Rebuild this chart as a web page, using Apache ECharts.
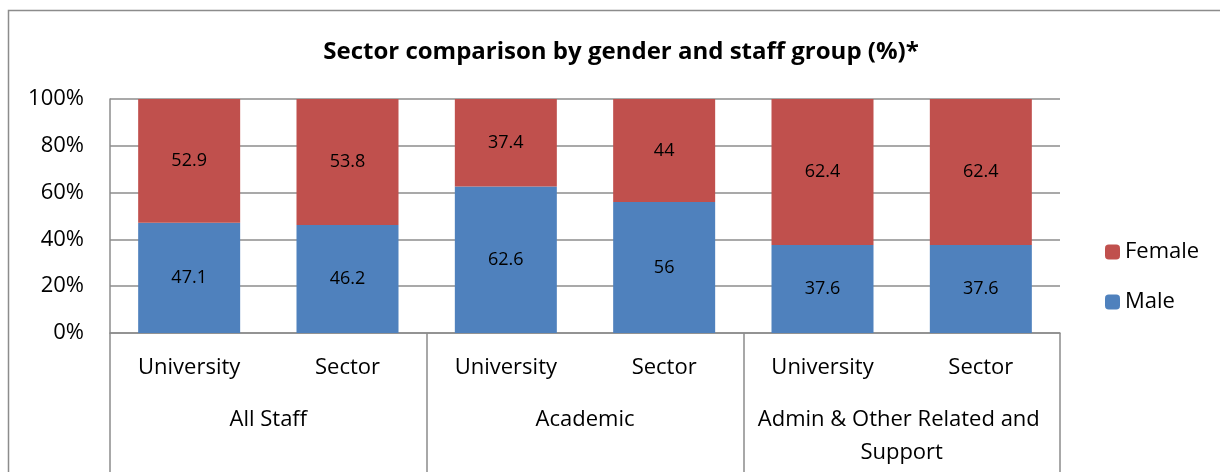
<!DOCTYPE html>
<html>
<head>
<meta charset="utf-8">
<script src="https://cdn.jsdelivr.net/npm/echarts@6/dist/echarts.min.js"></script>
<style>
  html, body { margin: 0; padding: 0; background: #fff; }
  #chart { width: 1220px; height: 472px; }
</style>
</head>
<body>
<div id="chart"></div>
<script>
// data
const subLabels = ['University', 'Sector', 'University', 'Sector', 'University', 'Sector'];
const groupLabels = ['All Staff', 'Academic', 'Admin & Other Related and Support'];
const maleValues = [47.1, 46.2, 62.6, 56, 37.6, 37.6];
const femaleValues = [52.9, 53.8, 37.4, 44, 62.4, 62.4];
const yTicks = [0, 20, 40, 60, 80, 100];

const FONT = 'Open Sans';
const gray = '#8c8c8c';

const chart = echarts.init(document.getElementById('chart'));
chart.setOption({
  animation: false,
  textStyle: { fontFamily: FONT, color: '#000' },
  title: {
    text: 'Sector comparison by gender and staff group (%)*',
    left: 616,
    textAlign: 'center',
    top: 35,
    textStyle: { fontFamily: FONT, fontSize: 24, fontWeight: 'bold', color: '#000' }
  },
  graphic: [{
    type: 'rect',
    shape: { x: 8.5, y: 10.5, width: 1230, height: 480 },
    style: { fill: 'none', stroke: gray, lineWidth: 1.5 },
    silent: true
  }],
  legend: {
    orient: 'vertical',
    left: 1100,
    top: 235,
    itemWidth: 15,
    itemHeight: 15,
    itemGap: 26,
    data: ['Female', 'Male'],
    textStyle: { fontFamily: FONT, fontSize: 22, lineHeight: 24, color: '#000' }
  },
  grid: { left: 110, right: 160, top: 99, bottom: 139, containLabel: false },
  xAxis: [{
    type: 'category',
    data: subLabels,
    axisLine: { show: true, lineStyle: { color: gray, width: 1.5 } },
    axisTick: { show: false },
    axisLabel: { interval: 0, fontSize: 22, color: '#000', margin: 23, lineHeight: 24 }
  }, {
    type: 'category',
    data: groupLabels,
    position: 'bottom',
    axisLine: { show: false },
    axisTick: { show: true, interval: 0, length: 140, lineStyle: { color: gray, width: 1.5 } },
    axisLabel: {
      interval: 0, fontSize: 22, color: '#000', margin: 70, lineHeight: 33,
      width: 305, overflow: 'break', align: 'center'
    }
  }],
  yAxis: {
    type: 'value',
    min: yTicks[0],
    max: yTicks[yTicks.length - 1],
    interval: 20,
    axisLine: { show: true, lineStyle: { color: gray, width: 1.5 } },
    axisTick: { show: false },
    splitLine: { show: true, lineStyle: { color: gray, width: 1.5 } },
    axisLabel: { formatter: '{value}%', fontSize: 22, color: '#000', margin: 26 }
  },
  series: [{
    name: 'Male',
    type: 'bar',
    stack: 'total',
    xAxisIndex: 0,
    data: maleValues,
    barWidth: 102,
    itemStyle: { color: '#4f81bd' },
    label: { show: true, position: 'inside', fontSize: 18, color: '#000', fontFamily: FONT }
  }, {
    name: 'Female',
    type: 'bar',
    stack: 'total',
    xAxisIndex: 0,
    data: femaleValues,
    barWidth: 102,
    itemStyle: { color: '#c0504d' },
    label: { show: true, position: 'inside', fontSize: 18, color: '#000', fontFamily: FONT }
  }]
});
</script>
</body>
</html>
